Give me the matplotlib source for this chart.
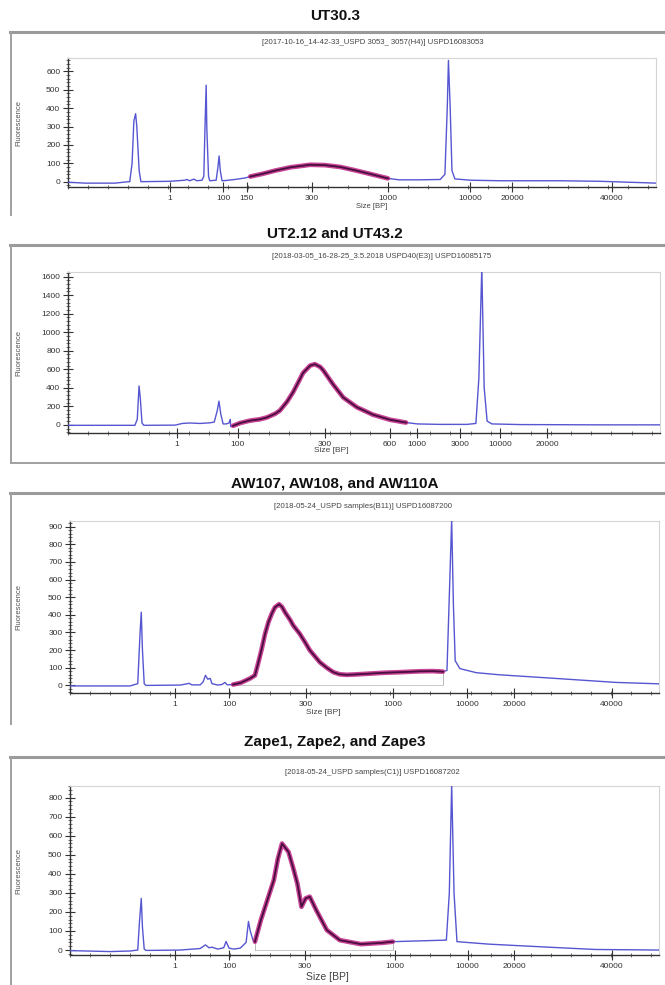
import numpy as np
import matplotlib.pyplot as plt
from matplotlib.ticker import MultipleLocator, AutoMinorLocator, FixedLocator
from matplotlib.lines import Line2D

plt.rcParams['font.family'] = ['Liberation Sans Narrow', 'Liberation Sans', 'DejaVu Sans']

# ---- electropherogram data (migration position in % of run window, fluorescence) ----
titles = ["UT30.3", "UT2.12 and UT43.2", "AW107, AW108, and AW110A", "Zape1, Zape2, and Zape3"]
subtitles = ["[2017-10-16_14-42-33_USPD 3053_ 3057(H4)] USPD16083053",
             "[2018-03-05_16-28-25_3.5.2018 USPD40(E3)] USPD16085175",
             "[2018-05-24_USPD samples(B11)] USPD16087200",
             "[2018-05-24_USPD samples(C1)] USPD16087202"]

pos1 = [0.0, 2.9, 8.0, 9.7, 10.5, 10.9, 11.2, 11.5, 11.7, 12.1, 12.4, 17.3, 19.9, 20.2, 20.7,
        21.4, 21.9, 22.8, 23.1, 23.3, 23.5, 23.6, 23.9, 24.1, 25.2, 25.5, 25.7, 25.9, 26.2,
        26.7, 28.4, 30.1, 31.0, 33.0, 35.2, 37.8, 41.2, 43.7, 46.3, 48.8, 51.4, 54.4, 56.3,
        59.7, 63.3, 64.1, 64.5, 64.7, 65.0, 65.3, 65.8, 68.4, 73.5, 83.7, 90.5, 97.3, 100.0]
fl1 = [-3, -8, -8, -2, 0, 100, 330, 370, 300, 60, 0, 2, 8, 12, 5,
       14, 5, 8, 30, 300, 525, 300, 30, 5, 8, 80, 140, 60, 5,
       6, 12, 20, 28, 42, 60, 78, 92, 90, 80, 62, 42, 18, 10,
       10, 12, 40, 400, 660, 400, 60, 15, 8, 5, 5, 2, -5, -8]

pos2 = [0.0, 5.4, 11.3, 11.7, 12.0, 12.2, 12.5, 12.8, 18.1, 19.3, 20.6, 22.3, 24.0, 24.7,
        25.2, 25.5, 25.8, 26.2, 26.7, 27.2, 27.4, 27.5, 27.7, 27.9, 29.1, 30.7, 32.4, 33.6,
        35.0, 35.8, 37.0, 38.0, 38.9, 39.7, 40.9, 41.7, 42.6, 43.1, 44.8, 46.5, 48.8, 51.5,
        54.4, 56.6, 57.1, 59.0, 62.8, 67.4, 68.9, 69.4, 69.9, 70.3, 70.8, 71.6, 76.4, 89.9, 100.0]
fl2 = [-5, -5, -5, 60, 420, 300, 20, -5, -3, 15, 20, 15, 22, 30,
       150, 256, 120, 10, 10, 20, 60, -20, -15, -10, 20, 45, 60, 80,
       120, 155, 250, 350, 460, 560, 640, 655, 625, 590, 435, 295, 190, 110,
       55, 30, 25, 10, 5, 5, 15, 500, 1700, 400, 40, 10, 3, 0, 0]

pos3 = [0.0, 10.2, 11.5, 11.9, 12.1, 12.3, 12.6, 12.9, 18.7, 19.7, 20.2, 20.7, 22.1, 22.6,
        23.0, 23.4, 23.8, 24.1, 25.1, 25.8, 26.3, 26.7, 27.7, 29.0, 30.6, 31.4, 31.9, 32.5,
        33.1, 33.7, 34.3, 34.8, 35.5, 36.0, 36.5, 37.4, 37.9, 39.0, 39.9, 40.7, 42.4, 43.6,
        44.7, 45.8, 47.0, 48.4, 50.4, 53.5, 56.0, 59.4, 61.6, 63.3, 64.0, 64.3, 64.8, 65.1,
        65.4, 66.2, 69.0, 73.0, 81.8, 92.7, 100.0]
fl3 = [-3, -3, 10, 300, 415, 200, 10, 0, 2, 8, 12, 3, 3, 20,
       57, 35, 40, 10, 2, 5, 17, 3, 5, 15, 40, 57, 120, 200,
       290, 360, 410, 443, 460, 445, 415, 370, 340, 293, 245, 200, 132, 100,
       75, 63, 60, 62, 66, 72, 75, 80, 81, 78, 85, 400, 940, 450,
       140, 95, 72, 60, 41, 17, 9]

pos4 = [0.0, 6.8, 10.2, 11.5, 11.8, 12.1, 12.3, 12.6, 12.9, 18.7, 22.1, 23.0, 23.6, 24.1,
        25.1, 26.1, 26.5, 27.0, 27.8, 28.9, 29.9, 30.3, 30.6, 31.1, 31.4, 32.4, 33.5, 34.6,
        35.3, 36.0, 37.1, 37.9, 38.6, 39.3, 40.0, 40.7, 41.8, 43.6, 45.8, 49.4, 53.0, 54.8,
        60.3, 63.9, 64.4, 64.8, 65.2, 65.7, 71.1, 81.9, 89.2, 100.0]
fl4 = [-3, -8, -5, 0, 150, 271, 120, 5, -2, 0, 8, 27, 12, 15,
       5, 12, 45, 10, 5, 10, 40, 150, 100, 50, 44, 157, 262, 367,
       480, 559, 515, 430, 349, 227, 271, 280, 210, 105, 52, 31, 38, 44,
       49, 52, 300, 870, 300, 44, 31, 14, 3, 0]

positions = [pos1, pos2, pos3, pos4]
fluor = [fl1, fl2, fl3, fl4]
# smear region (start, end) in migration position
regions = [(31.0, 54.4), (27.9, 57.1), (27.7, 63.3), (31.4, 54.8)]

# size ladder labels along the migration axis
tick_pos = [[17.3, 26.4, 30.4, 41.5, 54.4, 68.4, 75.5, 92.5],
            [18.4, 28.7, 43.4, 54.4, 58.9, 66.2, 73.0, 80.9],
            [17.8, 27.0, 40.1, 54.8, 67.4, 75.4, 92.0],
            [17.8, 27.0, 39.9, 55.1, 67.5, 75.4, 92.0]]
tick_lab = [["1", "100", "150", "300", "1000", "10000", "20000", "40000"],
            ["1", "100", "300", "600", "1000", "3000", "10000", "20000"],
            ["1", "100", "300", "1000", "10000", "20000", "40000"],
            ["1", "100", "300", "1000", "10000", "20000", "40000"]]
y_max = [600, 1600, 900, 800]
y_step = [100, 200, 100, 100]

# ---- layout in pixels ----
W, H = 665, 985
axes_px = [(68, 58, 656, 187), (68, 272, 660, 433), (70, 521, 659, 693), (70, 786, 659, 955)]
ylims = [(-29, 673), (-88, 1650), (-43, 932), (-26, 861)]
title_y = [16, 234, 483, 742]
frame_y = [(32, 215, False), (245, 463, True), (493, 724, False), (757, 985, False)]
sub_xy = [(373, 43), (382, 256), (363, 507), (372, 773)]
xlab_xy = [(372, 206), (331, 450), (323, 712), (327, 977)]
xlab_size = [5.5, 6, 6, 7.5]
brackets = [False, False, True, True]


def fx(x):
    return x / W


def fy(y):
    return 1 - y / H


fig = plt.figure(figsize=(W / 100, H / 100), dpi=100)
fig.patch.set_facecolor('white')

for i in range(4):
    l, t, r, b = axes_px[i]
    ax = fig.add_axes([fx(l), fy(b), (r - l) / W, (b - t) / H])

    # panel frame
    ft, fb, bottom_line = frame_y[i]
    fig.add_artist(Line2D([fx(10), fx(W)], [fy(ft), fy(ft)], color='#9a9a9a', lw=2.2,
                          transform=fig.transFigure))
    fig.add_artist(Line2D([fx(11), fx(11)], [fy(ft), fy(fb)], color='#a0a0a0', lw=1.4,
                          transform=fig.transFigure))
    if bottom_line:
        fig.add_artist(Line2D([fx(11), fx(W)], [fy(fb), fy(fb)], color='#a0a0a0', lw=1.4,
                              transform=fig.transFigure))

    fig.text(fx(335), fy(title_y[i]), titles[i], ha='center', va='center',
             fontsize=11, fontweight='bold', color='#111111')
    fig.text(fx(sub_xy[i][0]), fy(sub_xy[i][1]), subtitles[i], ha='center', va='center',
             fontsize=5.6, color='#444444')
    fig.text(fx(xlab_xy[i][0]), fy(xlab_xy[i][1]), "Size [BP]", ha='center', va='center',
             fontsize=xlab_size[i], color='#444444')

    x = np.array(positions[i])
    y = np.array(fluor[i])
    ax.plot(x, y, color='#5656d2', lw=1.0, zorder=3)

    r0, r1 = regions[i]
    m = (x >= r0) & (x <= r1)
    ax.plot(x[m], y[m], color='#c02486', lw=3.4, alpha=0.85, solid_capstyle='round', zorder=4)
    ax.plot(x[m], y[m], color='#4a0f3c', lw=1.3, zorder=5)

    if brackets[i]:
        ye = y[np.where(x == r1)[0][0]]
        ax.plot([r1, r1], [0, ye], color='#b8b8b8', lw=0.7, zorder=2)
        ax.plot([r0, r1], [0, 0], color='#c8c8c8', lw=0.7, zorder=2)
        if i == 3:
            ys = y[np.where(x == r0)[0][0]]
            ax.plot([r0, r0], [0, ys], color='#b8b8b8', lw=0.7, zorder=2)

    ax.set_xlim(0, 100)
    ax.set_ylim(*ylims[i])
    ax.xaxis.set_major_locator(FixedLocator(tick_pos[i]))
    ax.set_xticklabels(tick_lab[i])
    ax.xaxis.set_minor_locator(MultipleLocator(3.4))
    ax.set_yticks(np.arange(0, y_max[i] + 1, y_step[i]))
    ax.yaxis.set_minor_locator(AutoMinorLocator(5))
    ax.tick_params(which='major', direction='inout', length=7, width=0.8, colors='#333333',
                   labelsize=6, labelcolor='#333333', pad=2)
    ax.tick_params(which='minor', direction='inout', length=3, width=0.6, colors='#555555')
    for s in ['left', 'bottom']:
        ax.spines[s].set_color('#333333')
        ax.spines[s].set_linewidth(1.0)
    for s in ['top', 'right']:
        ax.spines[s].set_color('#d4d4d4')
        ax.spines[s].set_linewidth(0.8)
    ax.set_ylabel("Fluorescence", fontsize=5.5, color='#555555')
    ax.yaxis.set_label_coords((22 - l) / (r - l), 0.5)

fig.savefig("out.png", dpi=100, facecolor='white')
